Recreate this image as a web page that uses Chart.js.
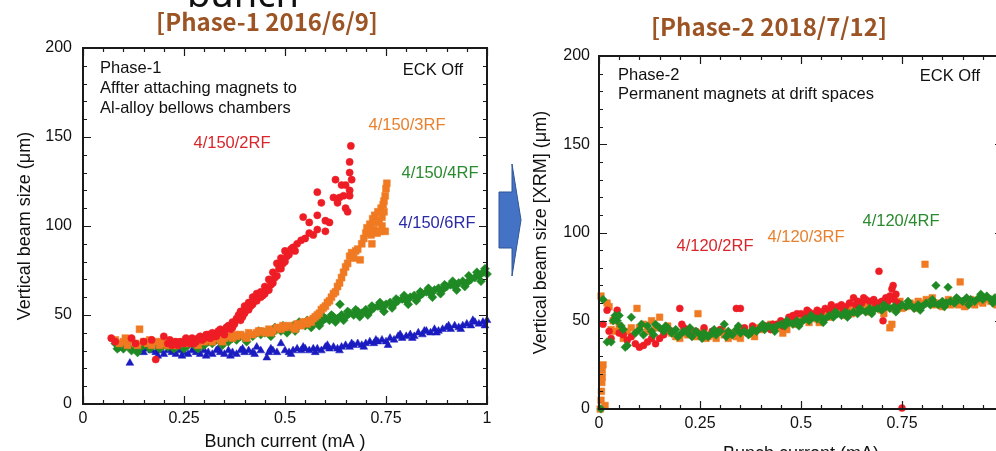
<!DOCTYPE html>
<html><head><meta charset="utf-8">
<script src="https://cdn.jsdelivr.net/npm/chart.js@4.4.1/dist/chart.umd.min.js"></script>
<style>
html,body{margin:0;padding:0;background:#fff;width:996px;height:451px;overflow:hidden;position:relative}
#cL{position:absolute;left:0;top:0}
#cR{position:absolute;left:520px;top:0}
</style></head><body>
<canvas id="cL" width="530" height="451"></canvas>
<canvas id="cR" width="493" height="470"></canvas>
<script>
// ---------- tick values / labels ----------
const xTickVals = [0, 0.25, 0.5, 0.75, 1];
const xTickLabels = ['0', '0.25', '0.5', '0.75', '1'];
const yTickVals = [0, 50, 100, 150, 200];
const yTickLabels = ['0', '50', '100', '150', '200'];

// ---------- Phase-1 series [bunch current mA, beam size um] ----------
const p1_2RF = [[0.07,37],[0.08,35],[0.12,37],[0.13,34],[0.15,35],[0.17,36],[0.18,25],[0.2,38],[0.21,34],[0.215,36],[0.22,33],[0.23,35],[0.235,33],[0.24,35],[0.25,34],[0.255,37],[0.26,36],[0.265,34],[0.27,37],[0.275,34],[0.28,35],[0.285,37],[0.29,38],[0.295,36],[0.3,37],[0.305,39],[0.31,39],[0.315,37],[0.32,40],[0.325,38],[0.33,38],[0.335,41],[0.34,42],[0.345,40],[0.35,41],[0.35,39],[0.355,43],[0.36,44],[0.365,42],[0.37,46],[0.37,43],[0.375,45],[0.38,48],[0.385,50],[0.39,47],[0.39,52],[0.395,49],[0.4,51],[0.4,55],[0.405,53],[0.41,53],[0.41,57],[0.415,55],[0.42,56],[0.42,60],[0.425,58],[0.43,58],[0.43,62],[0.435,60],[0.44,60],[0.44,63],[0.445,61],[0.45,62],[0.45,66],[0.455,64],[0.46,64],[0.46,70],[0.465,67],[0.47,68],[0.47,74],[0.475,71],[0.48,72],[0.48,79],[0.485,76],[0.49,76],[0.49,82],[0.495,79],[0.5,80],[0.5,86],[0.505,83],[0.51,84],[0.515,87],[0.52,88],[0.525,86],[0.53,90],[0.54,92],[0.545,105],[0.55,93],[0.56,96],[0.56,102],[0.57,95],[0.58,106],[0.58,119],[0.58,98],[0.59,113],[0.6,97],[0.6,103],[0.61,102],[0.62,116],[0.625,126],[0.63,113],[0.635,116],[0.64,123],[0.645,117],[0.65,110],[0.65,123],[0.655,108],[0.66,120],[0.66,136],[0.66,130],[0.663,145],[0.665,126],[0.66,117]];
const p1_3RF = [[0.08,36],[0.09,34],[0.1,35],[0.105,37],[0.11,33],[0.12,36],[0.13,34],[0.135,33],[0.14,42],[0.15,35],[0.16,34],[0.165,36],[0.17,33],[0.18,35],[0.19,33],[0.195,35],[0.2,34],[0.21,33],[0.22,35],[0.225,33],[0.23,33],[0.24,34],[0.25,35],[0.255,36],[0.26,34],[0.27,35],[0.28,34],[0.285,33],[0.29,36],[0.3,35],[0.31,36],[0.315,37],[0.32,35],[0.33,37],[0.34,36],[0.345,35],[0.35,37],[0.36,38],[0.37,37],[0.375,39],[0.38,38],[0.39,39],[0.4,38],[0.405,37],[0.41,40],[0.42,39],[0.43,40],[0.435,41],[0.44,41],[0.45,40],[0.46,42],[0.465,40],[0.47,41],[0.48,43],[0.49,42],[0.495,44],[0.5,43],[0.51,44],[0.52,43],[0.525,42],[0.53,45],[0.54,44],[0.545,46],[0.55,46],[0.555,45],[0.56,47],[0.565,46],[0.57,48],[0.575,49],[0.58,50],[0.585,51],[0.59,53],[0.595,54],[0.6,55],[0.605,57],[0.61,58],[0.615,60],[0.62,62],[0.625,63],[0.63,66],[0.635,68],[0.64,71],[0.645,74],[0.65,77],[0.655,79],[0.66,83],[0.665,85],[0.67,82],[0.675,86],[0.68,87],[0.686,81],[0.69,90],[0.695,93],[0.7,96],[0.703,99],[0.707,97],[0.71,101],[0.713,95],[0.715,90],[0.717,104],[0.72,98],[0.722,106],[0.725,102],[0.728,96],[0.73,108],[0.733,103],[0.735,97],[0.738,110],[0.74,105],[0.743,112],[0.745,114],[0.748,97],[0.748,117],[0.75,121],[0.752,124],[0.745,108],[0.74,100]];
const p1_4RF = [[0.08,34],[0.085,31],[0.09,32],[0.1,31],[0.105,34],[0.11,33],[0.12,30],[0.13,32],[0.135,29],[0.14,31],[0.15,33],[0.16,35],[0.165,31],[0.17,32],[0.18,33],[0.19,31],[0.195,34],[0.2,33],[0.21,32],[0.22,34],[0.225,31],[0.23,32],[0.24,33],[0.25,31],[0.255,34],[0.26,33],[0.27,34],[0.28,32],[0.285,31],[0.29,34],[0.3,33],[0.31,35],[0.315,36],[0.32,34],[0.33,36],[0.34,35],[0.345,33],[0.35,36],[0.36,35],[0.37,37],[0.375,38],[0.38,36],[0.39,38],[0.4,37],[0.405,35],[0.41,39],[0.42,38],[0.43,40],[0.435,41],[0.44,39],[0.45,40],[0.46,41],[0.465,38],[0.47,40],[0.475,43],[0.48,42],[0.49,41],[0.495,44],[0.5,43],[0.505,40],[0.51,42],[0.52,44],[0.525,41],[0.53,43],[0.535,46],[0.54,45],[0.55,44],[0.555,47],[0.56,46],[0.565,43],[0.57,45],[0.58,47],[0.585,44],[0.59,46],[0.595,49],[0.6,48],[0.61,47],[0.615,50],[0.62,49],[0.625,46],[0.63,48],[0.636,56],[0.64,50],[0.645,47],[0.65,49],[0.655,52],[0.66,51],[0.67,50],[0.675,53],[0.68,52],[0.685,49],[0.69,51],[0.7,53],[0.705,50],[0.71,52],[0.715,55],[0.72,54],[0.73,55],[0.735,57],[0.74,54],[0.745,52],[0.75,56],[0.76,57],[0.765,54],[0.77,56],[0.775,59],[0.78,58],[0.79,59],[0.795,61],[0.8,58],[0.805,56],[0.81,60],[0.82,61],[0.825,58],[0.83,60],[0.835,63],[0.84,62],[0.85,63],[0.855,65],[0.86,62],[0.865,60],[0.87,64],[0.88,65],[0.885,62],[0.89,64],[0.895,67],[0.9,66],[0.91,67],[0.915,69],[0.92,66],[0.925,64],[0.93,68],[0.94,69],[0.945,66],[0.95,68],[0.955,72],[0.96,70],[0.97,71],[0.975,74],[0.98,72],[0.985,69],[0.99,74],[1.0,73],[0.995,76]];
const p1_6RF = [[0.08,35],[0.09,33],[0.1,32],[0.116,23],[0.14,30],[0.15,29],[0.155,31],[0.16,31],[0.17,30],[0.18,29],[0.185,27],[0.19,30],[0.2,28],[0.21,30],[0.215,31],[0.22,29],[0.23,28],[0.24,30],[0.245,27],[0.25,29],[0.26,28],[0.27,30],[0.275,31],[0.28,29],[0.29,28],[0.3,30],[0.305,27],[0.31,29],[0.32,28],[0.33,30],[0.335,31],[0.34,29],[0.35,28],[0.36,30],[0.365,27],[0.37,29],[0.38,28],[0.39,30],[0.395,31],[0.4,29],[0.41,30],[0.42,29],[0.425,28],[0.43,32],[0.44,30],[0.455,26],[0.46,29],[0.465,31],[0.47,30],[0.48,29],[0.49,34],[0.5,30],[0.51,29],[0.515,28],[0.52,30],[0.53,31],[0.54,30],[0.545,32],[0.55,31],[0.56,30],[0.57,31],[0.575,29],[0.58,31],[0.59,30],[0.6,32],[0.605,33],[0.61,31],[0.62,32],[0.63,31],[0.635,30],[0.64,32],[0.65,33],[0.66,32],[0.665,34],[0.67,33],[0.68,34],[0.69,33],[0.695,32],[0.7,34],[0.71,35],[0.72,34],[0.725,36],[0.73,35],[0.74,36],[0.75,35],[0.755,33],[0.76,37],[0.77,36],[0.78,38],[0.785,39],[0.79,37],[0.8,38],[0.81,39],[0.815,37],[0.82,38],[0.83,40],[0.84,39],[0.845,41],[0.85,41],[0.86,40],[0.87,42],[0.875,40],[0.88,41],[0.89,42],[0.9,43],[0.905,44],[0.91,42],[0.92,44],[0.93,43],[0.935,42],[0.94,44],[0.95,45],[0.96,44],[0.965,47],[0.97,46],[0.98,45],[0.99,46],[0.995,44],[1.0,47]];

// ---------- Phase-2 series ----------
const p2_2RF = [[0.01,48],[0.02,56],[0.025,44],[0.03,40],[0.04,52],[0.045,56],[0.05,43],[0.06,42],[0.07,39],[0.08,41],[0.09,37],[0.1,35],[0.11,36],[0.12,38],[0.13,40],[0.14,37],[0.15,40],[0.16,42],[0.18,44],[0.2,57],[0.205,48],[0.21,46],[0.22,45],[0.24,44],[0.26,46],[0.28,44],[0.3,45],[0.32,43],[0.34,57],[0.35,57],[0.36,46],[0.38,47],[0.4,46],[0.41,47],[0.42,47],[0.425,45],[0.43,48],[0.44,48],[0.45,50],[0.455,47],[0.46,49],[0.47,52],[0.48,53],[0.485,51],[0.49,54],[0.5,54],[0.51,53],[0.515,56],[0.52,55],[0.53,54],[0.54,56],[0.545,53],[0.55,55],[0.56,57],[0.57,56],[0.575,59],[0.58,57],[0.59,58],[0.6,59],[0.605,56],[0.61,58],[0.62,60],[0.63,63],[0.635,59],[0.64,61],[0.65,60],[0.655,63],[0.66,62],[0.67,61],[0.68,62],[0.685,59],[0.69,60],[0.693,78],[0.7,61],[0.703,50],[0.71,63],[0.715,61],[0.72,64],[0.725,68],[0.728,70],[0.73,62],[0.735,65],[0.74,60],[0.75,0.5]];
const p2_3RF = [[0.003,0],[0.005,5],[0.006,10],[0.007,15],[0.008,18],[0.008,22],[0.01,25],[0.005,64],[0.015,2],[0.02,60],[0.025,58],[0.03,45],[0.035,50],[0.04,44],[0.05,47],[0.06,40],[0.07,44],[0.08,46],[0.094,57],[0.1,46],[0.11,48],[0.12,44],[0.13,50],[0.14,46],[0.15,52],[0.16,45],[0.17,47],[0.175,44],[0.18,43],[0.19,41],[0.2,40],[0.21,43],[0.215,45],[0.22,42],[0.23,44],[0.24,41],[0.245,54],[0.25,43],[0.26,44],[0.265,40],[0.27,41],[0.28,42],[0.29,40],[0.3,44],[0.305,45],[0.31,42],[0.32,40],[0.33,43],[0.34,41],[0.345,44],[0.35,40],[0.36,45],[0.37,43],[0.38,44],[0.385,41],[0.39,46],[0.4,45],[0.41,47],[0.42,46],[0.425,48],[0.43,45],[0.44,47],[0.45,46],[0.455,43],[0.46,48],[0.465,45],[0.47,49],[0.48,50],[0.49,48],[0.5,50],[0.505,52],[0.51,51],[0.52,49],[0.53,52],[0.54,51],[0.545,49],[0.55,53],[0.56,55],[0.57,52],[0.58,54],[0.585,57],[0.59,56],[0.6,55],[0.61,53],[0.62,57],[0.625,54],[0.63,55],[0.64,56],[0.65,58],[0.66,57],[0.665,60],[0.67,55],[0.68,58],[0.69,57],[0.7,56],[0.705,54],[0.71,58],[0.72,46],[0.725,48],[0.73,57],[0.74,59],[0.745,61],[0.75,57],[0.76,58],[0.77,60],[0.78,59],[0.785,57],[0.79,61],[0.8,60],[0.807,82],[0.81,62],[0.82,61],[0.825,63],[0.83,59],[0.84,60],[0.85,58],[0.86,60],[0.865,62],[0.87,59],[0.88,61],[0.894,72],[0.89,59],[0.9,61],[0.905,58],[0.91,60],[0.92,62],[0.93,59],[0.94,61],[0.945,63],[0.95,60],[0.96,62],[0.97,61],[0.98,60],[0.985,59],[0.99,62],[1.0,61]];
const p2_4RF = [[0.005,0],[0.01,62],[0.02,38],[0.03,38],[0.035,50],[0.04,53],[0.045,50],[0.05,53],[0.055,47],[0.06,45],[0.065,35],[0.07,36],[0.08,52],[0.09,43],[0.1,45],[0.105,48],[0.11,42],[0.12,47],[0.13,44],[0.135,42],[0.14,48],[0.15,46],[0.16,44],[0.165,47],[0.17,46],[0.18,43],[0.19,45],[0.195,41],[0.2,42],[0.21,44],[0.22,43],[0.225,46],[0.23,41],[0.24,44],[0.25,42],[0.255,40],[0.26,43],[0.27,41],[0.28,43],[0.285,45],[0.29,42],[0.3,44],[0.31,48],[0.315,41],[0.32,44],[0.33,42],[0.34,45],[0.345,47],[0.35,43],[0.36,44],[0.37,42],[0.375,43],[0.38,45],[0.39,44],[0.4,46],[0.405,48],[0.41,45],[0.42,47],[0.43,46],[0.435,44],[0.44,47],[0.45,48],[0.46,47],[0.465,50],[0.47,49],[0.48,48],[0.49,50],[0.495,47],[0.5,49],[0.51,51],[0.52,50],[0.525,53],[0.53,52],[0.54,51],[0.55,52],[0.555,49],[0.56,51],[0.57,53],[0.58,52],[0.585,55],[0.59,54],[0.6,53],[0.61,55],[0.615,52],[0.62,54],[0.63,55],[0.64,54],[0.645,57],[0.65,56],[0.66,55],[0.67,57],[0.675,54],[0.68,56],[0.69,57],[0.7,56],[0.705,59],[0.71,58],[0.72,57],[0.73,58],[0.735,55],[0.74,57],[0.75,59],[0.76,58],[0.765,61],[0.77,59],[0.78,57],[0.79,59],[0.795,56],[0.8,58],[0.81,60],[0.82,59],[0.825,62],[0.834,70],[0.83,60],[0.84,59],[0.85,61],[0.855,58],[0.86,60],[0.864,69],[0.87,61],[0.88,60],[0.885,63],[0.89,62],[0.9,61],[0.91,63],[0.915,59],[0.92,62],[0.93,61],[0.94,63],[0.945,65],[0.95,62],[0.96,64],[0.97,62],[0.975,60],[0.98,63],[0.99,61],[0.995,64],[1.0,62]];

const C = {red:'#EE1C25', orange:'#F07A22', green:'#1F8A24', blue:'#1A1CC0',
           redT:'#D8262B', orangeT:'#E9802E', greenT:'#2A8A2E', blueT:'#2A2AA8', brown:'#9C5424', txt:'#111'};
const FONT = "'Liberation Sans', Arial, sans-serif";
Chart.defaults.font.family = FONT;
Chart.defaults.color = C.txt;

const pts = arr => arr.map(p => ({x:p[0], y:p[1]}));
function ds(label, arr, color, style, r){
  return {label, data: pts(arr), backgroundColor: color, borderColor: color, borderWidth: 0.5,
          pointStyle: style, pointRadius: r, pointHoverRadius: r, showLine:false, clip:false};
}

const frameTicks = {
  id:'frameTicks',
  afterDatasetsDraw(chart){
    const {ctx, chartArea:{left,right,top,bottom}, scales:{x,y}} = chart;
    ctx.save();
    ctx.strokeStyle = '#1a1a1a';
    ctx.lineWidth = 1.2;
    ctx.beginPath();
    for (let i=0;i<=20;i++){
      const px = Math.round(x.getPixelForValue(i*0.05)) + 0.5;
      const len = i%5===0 ? 8 : 4;
      ctx.moveTo(px,bottom); ctx.lineTo(px,bottom-len);
      ctx.moveTo(px,top); ctx.lineTo(px,top+len);
    }
    for (let i=0;i<=20;i++){
      const py = Math.round(y.getPixelForValue(i*10)) + 0.5;
      const len = i%5===0 ? 8 : 4;
      ctx.moveTo(left,py); ctx.lineTo(left+len,py);
      ctx.moveTo(right,py); ctx.lineTo(right-len,py);
    }
    ctx.stroke();
    ctx.lineWidth = 2;
    ctx.strokeRect(left, top, right-left, bottom-top);
    ctx.restore();
  }
};

const annot = {
  id:'annot',
  afterDraw(chart, args, opts){
    const ctx = chart.ctx;
    ctx.save();
    if (opts.arrow){
      const a = opts.arrow;
      ctx.beginPath();
      a.forEach((p,i)=> i? ctx.lineTo(p[0],p[1]) : ctx.moveTo(p[0],p[1]));
      ctx.closePath();
      ctx.fillStyle = '#4472C4'; ctx.fill();
      ctx.strokeStyle = '#2F5597'; ctx.lineWidth = 1; ctx.stroke();
    }
    (opts.items||[]).forEach(it=>{
      ctx.font = it.font; ctx.fillStyle = it.color || C.txt;
      ctx.textAlign = it.align || 'left';
      ctx.textBaseline = it.baseline || 'middle';
      ctx.fillText(it.text, it.x, it.y);
    });
    ctx.restore();
  }
};

function scales(o){
  return {
    x:{type:'linear', min:0, max:1, position:'bottom',
       afterBuildTicks: s => { s.ticks = xTickVals.map(v=>({value:v})); },
       afterFit: s => { s.height = o.xh; },
       grid:{display:false, drawTicks:false, tickLength:0}, border:{display:false},
       ticks:{padding:5, font:{size:16}, color:C.txt, maxRotation:0, callback:(v,i)=>xTickLabels[i]},
       title:{display:true, text:o.xt, font:{size:18, lineHeight:1}, color:C.txt, padding:{top:0,bottom:o.xtp}}},
    y:{type:'linear', min:0, max:200, position:'left',
       afterBuildTicks: s => { s.ticks = yTickVals.map(v=>({value:v})); },
       afterFit: s => { s.width = o.yw; },
       grid:{display:false, drawTicks:false, tickLength:0}, border:{display:false},
       ticks:{padding:o.ytp, font:{size:16}, color:C.txt, callback:(v,i)=>yTickLabels[i]},
       title:{display:true, text:o.yt, font:{size:18, lineHeight:1}, color:C.txt, padding:{top:o.ytt,bottom:0}}}
  };
}

const F16 = "16.5px " + FONT;
const FT = "bold 24px 'Noto Sans CJK JP', sans-serif";

new Chart(document.getElementById('cL'), {
  type:'scatter',
  data:{datasets:[
    ds('4/150/2RF', p1_2RF, C.red, 'circle', 3.6),
    ds('4/150/3RF', p1_3RF, C.orange, 'rect', 4.9),
    ds('4/150/4RF', p1_4RF, C.green, 'rectRot', 4.5),
    ds('4/150/6RF', p1_6RF, C.blue, 'triangle', 4.5)
  ]},
  options:{
    responsive:false, animation:false, devicePixelRatio:1,
    layout:{padding:{left:0, top:48, right:43, bottom:0}},
    scales: scales({xh:47, xt:'Bunch current (mA )', xtp:0, yw:83, ytp:11, yt:'Vertical beam size (\u03bcm)', ytt:16}),
    plugins:{legend:{display:false}, tooltip:{enabled:false},
      annot:{
        arrow:[[499,192],[512,192],[512,164],[521,220],[512,276],[512,248],[499,248]],
        items:[
          {text:'bunch', x:243, y:7, font:"38px 'Noto Sans', sans-serif", align:'center', baseline:'alphabetic'},
          {text:'[Phase-1 2016/6/9]', x:267, y:22, font:FT, align:'center', color:C.brown},
          {text:'Phase-1', x:100, y:68, font:F16},
          {text:'Affter attaching magnets to', x:100, y:88, font:F16},
          {text:'Al-alloy bellows chambers', x:100, y:108, font:F16},
          {text:'ECK Off', x:463, y:70, font:F16, align:'right'},
          {text:'4/150/2RF', x:232, y:143, font:F16, align:'center', color:C.redT},
          {text:'4/150/3RF', x:407, y:125, font:F16, align:'center', color:C.orangeT},
          {text:'4/150/4RF', x:440, y:173, font:F16, align:'center', color:C.greenT},
          {text:'4/150/6RF', x:437, y:223, font:F16, align:'center', color:C.blueT}
        ]}}
  },
  plugins:[frameTicks, annot]
});

new Chart(document.getElementById('cR'), {
  type:'scatter',
  data:{datasets:[
    ds('4/120/4RF', p2_4RF, C.green, 'rectRot', 4.3),
    ds('4/120/2RF', p2_2RF, C.red, 'circle', 3.5),
    ds('4/120/3RF', p2_3RF, C.orange, 'rect', 4.7)
  ]},
  options:{
    responsive:false, animation:false, devicePixelRatio:1,
    layout:{padding:{left:0, top:56, right:10, bottom:0}},
    scales: scales({xh:61, xt:'Bunch current (mA)', xtp:7, yw:79, ytp:9, yt:'Vertical beam size [XRM] (\u03bcm)', ytt:12}),
    plugins:{legend:{display:false}, tooltip:{enabled:false},
      annot:{items:[
          {text:'[Phase-2 2018/7/12]', x:249, y:27, font:FT, align:'center', color:C.brown},
          {text:'Phase-2', x:98, y:75, font:F16},
          {text:'Permanent magnets at drift spaces', x:98, y:94, font:F16},
          {text:'ECK Off', x:460, y:76, font:F16, align:'right'},
          {text:'4/120/2RF', x:195, y:246, font:F16, align:'center', color:C.redT},
          {text:'4/120/3RF', x:286, y:237, font:F16, align:'center', color:C.orangeT},
          {text:'4/120/4RF', x:381, y:221, font:F16, align:'center', color:C.greenT}
        ]}}
  },
  plugins:[frameTicks, annot]
});
</script>
</body></html>
